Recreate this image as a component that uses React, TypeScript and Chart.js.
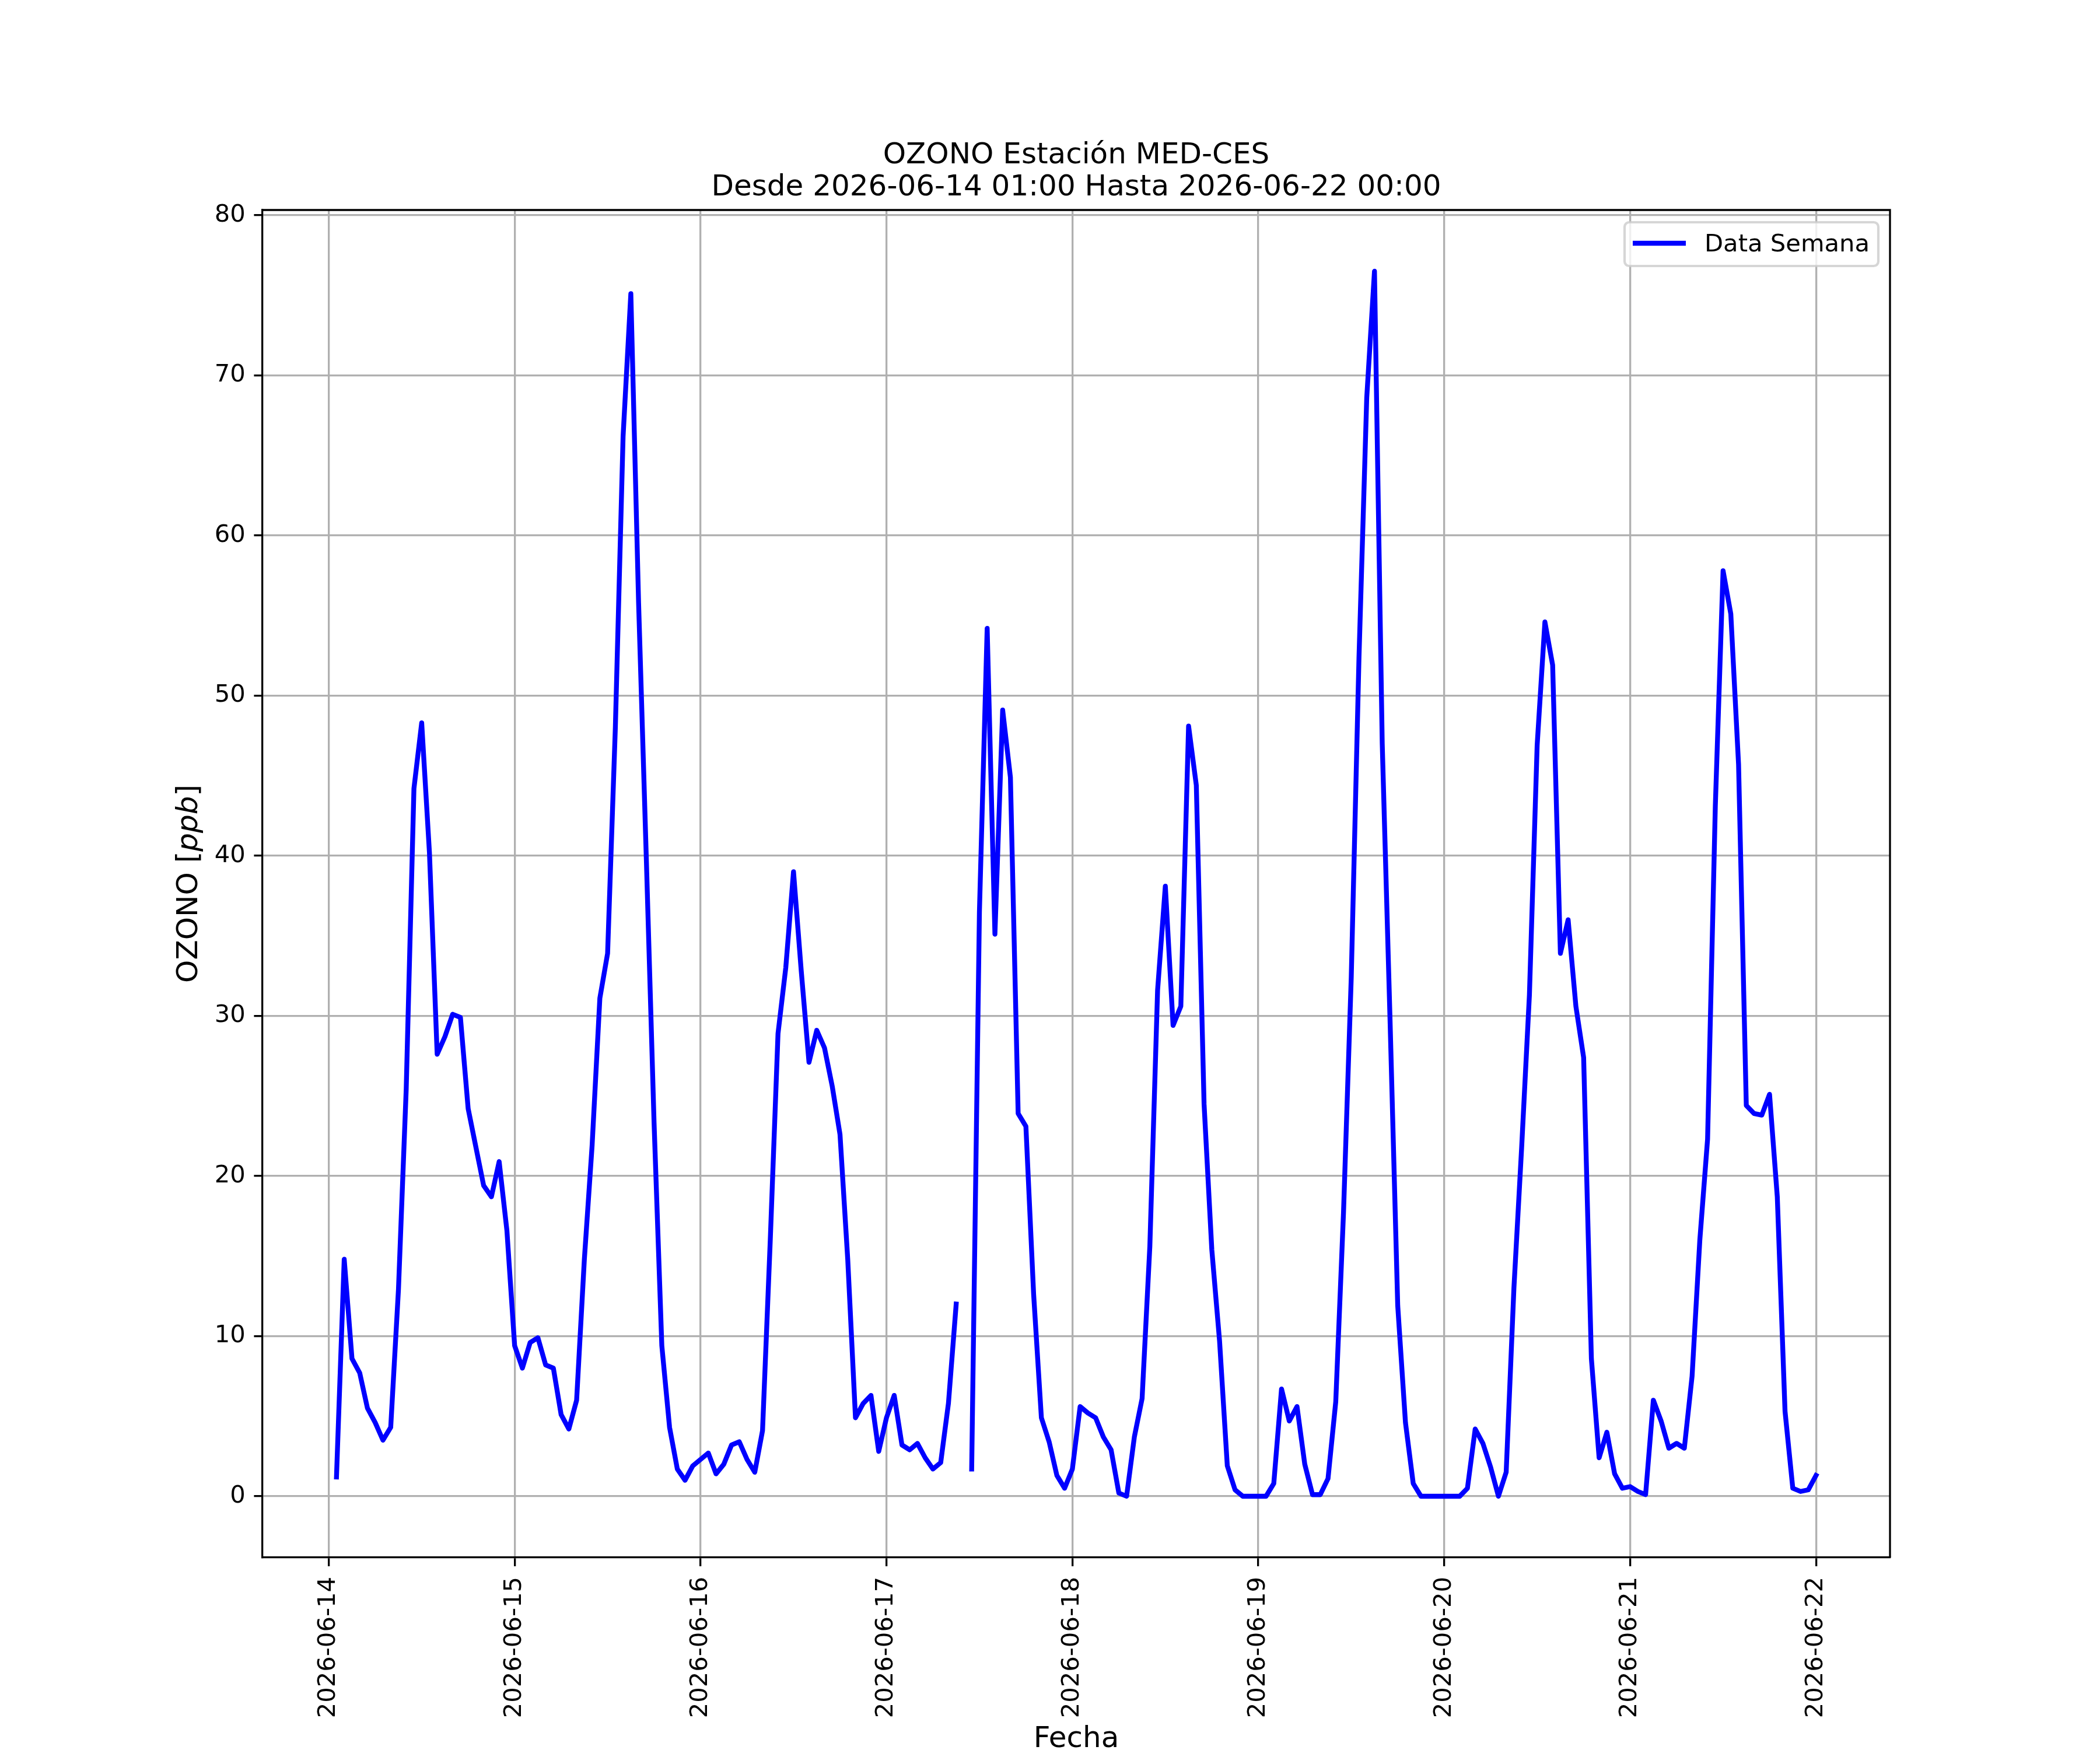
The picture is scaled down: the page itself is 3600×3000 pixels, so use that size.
import React, { useEffect, useRef } from 'react';
import { Chart, registerables } from 'chart.js';

Chart.register(...registerables);

// Hourly ozone values (ppb), 01:00 .. 24:00 of each day
const ozone0614 = [1.2, 14.8, 8.6, 7.7, 5.5, 4.6, 3.5, 4.3, 12.9, 25.4, 44.2, 48.3, 40.2, 27.6, 28.7, 30.1, 29.9, 24.2, 21.8, 19.4, 18.7, 20.9, 16.6, 9.4];
const ozone0615 = [8.0, 9.6, 9.9, 8.2, 8.0, 5.1, 4.2, 6.0, 14.8, 21.9, 31.1, 33.9, 48.0, 66.2, 75.1, 55.8, 39.8, 23.3, 9.4, 4.3, 1.7, 1.0, 1.9, 2.3];
const ozone0616 = [2.7, 1.4, 2.0, 3.2, 3.4, 2.3, 1.5, 4.1, 16.0, 28.9, 33.0, 39.0, 32.8, 27.1, 29.1, 28.0, 25.6, 22.6, 14.8, 4.9, 5.8, 6.3, 2.8, 4.9];
const ozone0617 = [6.3, 3.2, 2.9, 3.3, 2.4, 1.7, 2.1, 5.8, 12.0, null, 1.7, 36.5, 54.2, 35.1, 49.1, 44.9, 23.9, 23.1, 12.6, 4.9, 3.4, 1.3, 0.5, 1.7];
const ozone0618 = [5.6, 5.2, 4.9, 3.7, 2.9, 0.2, 0.0, 3.7, 6.1, 15.6, 31.6, 38.1, 29.4, 30.6, 48.1, 44.4, 24.5, 15.4, 9.7, 1.9, 0.4, 0.0, 0.0, 0.0];
const ozone0619 = [0.0, 0.8, 6.7, 4.7, 5.6, 2.0, 0.1, 0.1, 1.1, 5.9, 17.7, 32.4, 52.4, 68.6, 76.5, 47.0, 29.9, 11.9, 4.6, 0.8, 0.0, 0.0, 0.0, 0.0];
const ozone0620 = [0.0, 0.0, 0.5, 4.2, 3.3, 1.8, 0.0, 1.5, 13.0, 21.8, 31.3, 46.9, 54.6, 51.9, 33.9, 36.0, 30.6, 27.4, 8.6, 2.4, 4.0, 1.4, 0.5, 0.6];
const ozone0621 = [0.3, 0.1, 6.0, 4.7, 3.0, 3.3, 3.0, 7.5, 16.0, 22.3, 43.1, 57.8, 55.1, 45.7, 24.4, 23.9, 23.8, 25.1, 18.7, 5.3, 0.5, 0.3, 0.4, 1.3];

const dayLabels = ['2026-06-14', '2026-06-15', '2026-06-16', '2026-06-17', '2026-06-18', '2026-06-19', '2026-06-20', '2026-06-21', '2026-06-22'];
const yTicks = [0, 10, 20, 30, 40, 50, 60, 70, 80];

const titleLines = ['OZONO Estación MED-CES', 'Desde 2026-06-14 01:00 Hasta 2026-06-22 00:00'];
const seriesLabel = 'Data Semana';
const xTitle = 'Fecha';

const FONT = '"DejaVu Sans"';
const LINE_W = 8.33;

export default function App() {
  const ref = useRef<HTMLCanvasElement | null>(null);

  useEffect(() => {
    const canvas = ref.current;
    if (!canvas) return;
    const all = [
      ...ozone0614, ...ozone0615, ...ozone0616, ...ozone0617,
      ...ozone0618, ...ozone0619, ...ozone0620, ...ozone0621,
    ];
    const points = all.map((v, i) => ({ x: i + 1, y: v }));
    const first = 1;
    const last = all.length;
    const xm = (last - first) * 0.05;
    const yMinData = 0;
    const yMaxData = Math.max(...(all.filter((v) => v !== null) as number[]));
    const ym = (yMaxData - yMinData) * 0.05;

    const decor = {
      id: 'decor',
      afterDraw(chart: any) {
        const { ctx, chartArea } = chart;
        const { left, right, top, bottom } = chartArea;
        const cx = (left + right) / 2;
        ctx.save();
        // spines
        ctx.strokeStyle = '#000';
        ctx.lineWidth = 3.3;
        ctx.beginPath();
        ctx.moveTo(left, top);
        ctx.lineTo(right, top);
        ctx.lineTo(right, bottom);
        ctx.stroke();

        // title
        ctx.fillStyle = '#000';
        ctx.font = `50px ${FONT}`;
        ctx.textAlign = 'center';
        ctx.textBaseline = 'alphabetic';
        ctx.fillText(titleLines[0], cx, 280);
        ctx.fillText(titleLines[1], cx, 335);

        // x title
        ctx.fillText(xTitle, cx, 2995);

        // y title with italic unit
        const cy = (top + bottom) / 2;
        const p1 = 'OZONO [';
        const p2 = 'ppb';
        const p3 = ']';
        ctx.save();
        ctx.translate(338, cy);
        ctx.rotate(-Math.PI / 2);
        ctx.textAlign = 'left';
        ctx.font = `50px ${FONT}`;
        const w1 = ctx.measureText(p1).width;
        const w3 = ctx.measureText(p3).width;
        ctx.font = `italic 50px ${FONT}`;
        const w2 = ctx.measureText(p2).width;
        let x0 = -(w1 + w2 + w3) / 2;
        ctx.font = `50px ${FONT}`;
        ctx.fillText(p1, x0, 0);
        x0 += w1;
        ctx.font = `italic 50px ${FONT}`;
        ctx.fillText(p2, x0, 0);
        x0 += w2;
        ctx.font = `50px ${FONT}`;
        ctx.fillText(p3, x0, 0);
        ctx.restore();

        // legend
        const lx = right - 455;
        const ly = top + 21;
        const lw = 435;
        const lh = 75;
        ctx.beginPath();
        ctx.roundRect(lx, ly, lw, lh, 8);
        ctx.fillStyle = 'rgba(255,255,255,0.8)';
        ctx.fill();
        ctx.strokeStyle = 'rgba(204,204,204,0.8)';
        ctx.lineWidth = 4.2;
        ctx.stroke();
        ctx.beginPath();
        ctx.strokeStyle = '#0000ff';
        ctx.lineWidth = LINE_W;
        ctx.lineCap = 'butt';
        ctx.moveTo(lx + 14, ly + 36);
        ctx.lineTo(lx + 105, ly + 36);
        ctx.stroke();
        ctx.fillStyle = '#000';
        ctx.font = `41.7px ${FONT}`;
        ctx.textAlign = 'left';
        ctx.textBaseline = 'alphabetic';
        ctx.fillText(seriesLabel, lx + 137, ly + 50);
        ctx.restore();
      },
    };

    const chart = new Chart(canvas, {
      type: 'line',
      data: {
        datasets: [
          {
            label: seriesLabel,
            data: points,
            borderColor: '#0000ff',
            backgroundColor: '#0000ff',
            borderWidth: LINE_W,
            pointRadius: 0,
            pointHoverRadius: 0,
            tension: 0,
            spanGaps: false,
            borderJoinStyle: 'round',
            borderCapStyle: 'square',
            fill: false,
          },
        ],
      },
      options: {
        responsive: false,
        animation: false,
        devicePixelRatio: 1,
        events: [],
        layout: { padding: { top: 360, right: 360, left: 0, bottom: 0 } },
        plugins: {
          legend: { display: false },
          title: { display: false },
          tooltip: { enabled: false },
        },
        scales: {
          x: {
            type: 'linear',
            min: first - xm,
            max: last + xm,
            afterBuildTicks: (s: any) => {
              s.ticks = dayLabels.map((_, i) => ({ value: i * 24 }));
            },
            afterFit: (s: any) => {
              s.height = 330;
              s.paddingLeft = 0;
              s.paddingRight = 0;
            },
            ticks: {
              autoSkip: false,
              minRotation: 90,
              maxRotation: 90,
              padding: 18,
              color: '#000',
              font: { family: FONT, size: 41.7 },
              callback: (_v: any, i: number) => dayLabels[i],
            },
            grid: {
              color: '#b0b0b0',
              lineWidth: 3.3,
              tickLength: 15,
              tickColor: '#000',
              tickWidth: 3.3,
            },
            border: { display: true, color: '#000', width: 3.3 },
          },
          y: {
            type: 'linear',
            min: yMinData - ym,
            max: yMaxData + ym,
            afterBuildTicks: (s: any) => {
              s.ticks = yTicks.map((v) => ({ value: v }));
            },
            afterFit: (s: any) => {
              s.width = 450;
              s.paddingTop = 0;
              s.paddingBottom = 0;
            },
            ticks: {
              padding: 14.6,
              color: '#000',
              font: { family: FONT, size: 41.7 },
              callback: (v: any) => String(v),
            },
            grid: {
              color: '#b0b0b0',
              lineWidth: 3.3,
              tickLength: 14.6,
              tickColor: '#000',
              tickWidth: 3.3,
            },
            border: { display: true, color: '#000', width: 3.3 },
          },
        },
      },
      plugins: [decor],
    } as any);

    return () => chart.destroy();
  }, []);

  return (
    <div style={{ position: 'absolute', left: 0, top: 0, width: 3600, height: 3000, background: '#fff' }}>
      <canvas ref={ref} width={3600} height={3000} style={{ width: 3600, height: 3000, display: 'block' }} />
    </div>
  );
}
